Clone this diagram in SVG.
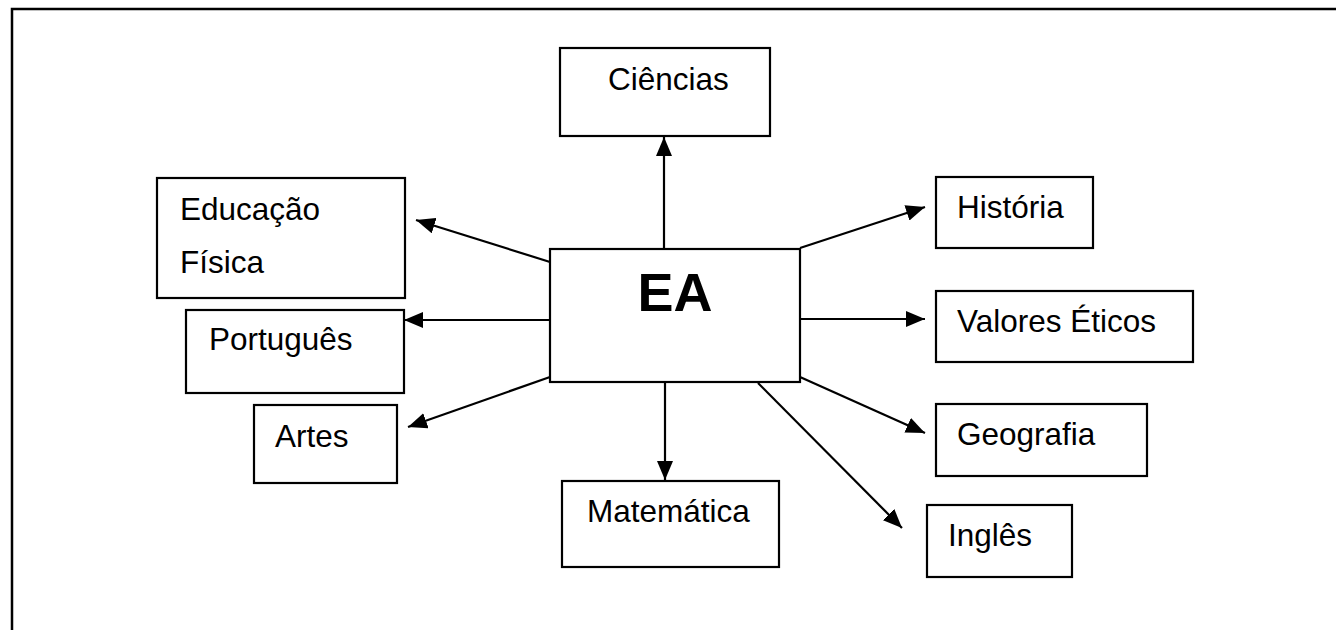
<svg xmlns="http://www.w3.org/2000/svg" width="1336" height="630" viewBox="0 0 1336 630">
<style>
  .box { fill: #fff; stroke: #000; stroke-width: 2.2; }
  .lbl { font-family: "Liberation Sans", Arial, sans-serif; font-size: 31.5px; fill: #000; }
  .big { font-family: "Liberation Sans", Arial, sans-serif; font-size: 54px; font-weight: bold; fill: #000; }
  .conn { stroke: #000; stroke-width: 2.2; fill: none; marker-end: url(#arr); }
</style>
<defs>
  <marker id="arr" markerUnits="userSpaceOnUse" markerWidth="20" markerHeight="16" viewBox="0 0 20 16" refX="19" refY="8" orient="auto">
    <path d="M0,0 L19,8 L0,16 Z" fill="#000"/>
  </marker>
</defs>
<rect width="1336" height="630" fill="#fff"/>
<path d="M12,630 L12,9 L1336,9" fill="none" stroke="#000" stroke-width="2.5"/>

<g id="connectors">
  <line class="conn" x1="664" y1="249" x2="664" y2="137"/>
  <line class="conn" x1="550" y1="262" x2="416" y2="220"/>
  <line class="conn" x1="550" y1="320" x2="404" y2="320"/>
  <line class="conn" x1="550" y1="377" x2="408" y2="427"/>
  <line class="conn" x1="665" y1="382" x2="665" y2="480"/>
  <line class="conn" x1="800" y1="248" x2="925" y2="207"/>
  <line class="conn" x1="800" y1="319" x2="925" y2="319"/>
  <line class="conn" x1="800" y1="377" x2="925" y2="433"/>
  <line class="conn" x1="758" y1="383" x2="902" y2="528"/>
</g>

<g id="node-ea">
  <rect class="box" x="550" y="249" width="250" height="133"/>
  <text class="big" x="675" y="311" text-anchor="middle">EA</text>
</g>
<g id="node-ciencias">
  <rect class="box" x="560" y="48" width="210" height="88"/>
  <text class="lbl" x="608" y="90">Ciências</text>
</g>
<g id="node-educacao-fisica">
  <rect class="box" x="157" y="178" width="248" height="120"/>
  <text class="lbl" x="180" y="220">Educação</text>
  <text class="lbl" x="180" y="273">Física</text>
</g>
<g id="node-portugues">
  <rect class="box" x="186" y="310" width="218" height="83"/>
  <text class="lbl" x="209" y="350">Português</text>
</g>
<g id="node-artes">
  <rect class="box" x="254" y="405" width="143" height="78"/>
  <text class="lbl" x="275" y="447">Artes</text>
</g>
<g id="node-matematica">
  <rect class="box" x="562" y="481" width="217" height="86"/>
  <text class="lbl" x="587" y="522">Matemática</text>
</g>
<g id="node-historia">
  <rect class="box" x="936" y="177" width="157" height="71"/>
  <text class="lbl" x="957" y="218">História</text>
</g>
<g id="node-valores-eticos">
  <rect class="box" x="936" y="291" width="257" height="71"/>
  <text class="lbl" x="957" y="332">Valores Éticos</text>
</g>
<g id="node-geografia">
  <rect class="box" x="936" y="404" width="211" height="72"/>
  <text class="lbl" x="957" y="445">Geografia</text>
</g>
<g id="node-ingles">
  <rect class="box" x="927" y="505" width="145" height="72"/>
  <text class="lbl" x="948" y="546">Inglês</text>
</g>
</svg>
